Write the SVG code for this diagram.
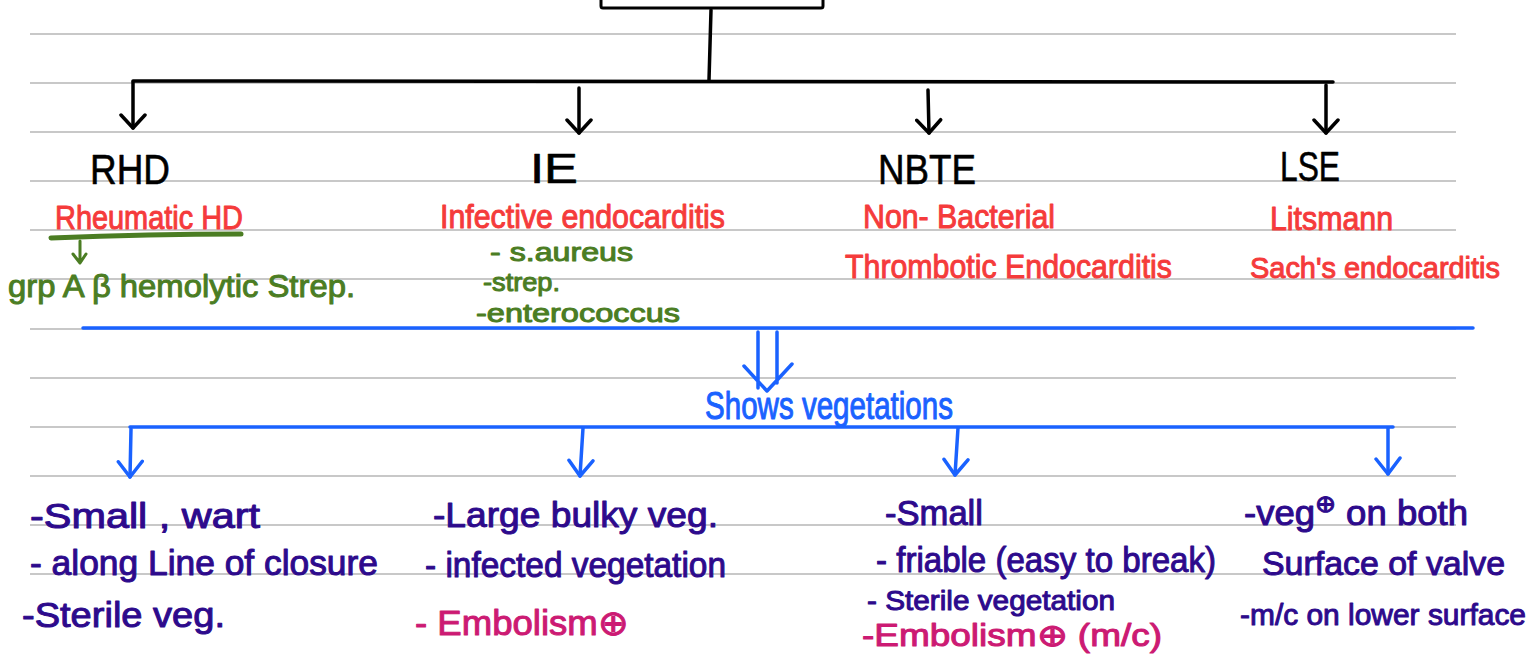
<svg xmlns="http://www.w3.org/2000/svg" width="1534" height="669" viewBox="0 0 1534 669">
  <style>
    .rule { stroke: #c8c8c8; stroke-width: 2; }
    .hw { font-family: "Liberation Sans", Arial, sans-serif; stroke-width: 1; stroke-linejoin: round; }
    .k { fill: #000; stroke: #000; font-size: 42px; stroke-width: 0.6; }
    .r { fill: #f53b3b; stroke: #f53b3b; font-size: 34px; }
    .g { fill: #4b7d23; stroke: #4b7d23; font-size: 32px; }
    .b { fill: #1a62ff; stroke: #1a62ff; font-size: 38px; }
    .p { fill: #2d0a8c; stroke: #2d0a8c; font-size: 35px; }
    .m { fill: #cc1a73; stroke: #cc1a73; font-size: 35px; }
    .s26 { font-size: 26px; }
    .s28 { font-size: 28px; }
    .s30 { font-size: 30px; }
    .s31 { font-size: 31px; }
    .s34 { font-size: 34px; }
    .sup { font-size: 24px; }
    .ck { stroke: #000; stroke-width: 3.5; fill: none; stroke-linecap: round; stroke-linejoin: round; }
    .cb { stroke: #1a62ff; stroke-width: 3.5; fill: none; stroke-linecap: round; stroke-linejoin: round; }
    .cg { stroke: #4b7d23; fill: none; stroke-linecap: round; stroke-linejoin: round; }
  </style>
  <defs>
    <marker id="headK" markerUnits="userSpaceOnUse" viewBox="-16 -14 20 28" refX="0" refY="0" markerWidth="20" markerHeight="28" orient="auto">
      <path d="M-13,-12 L0,0 L-13,12" fill="none" stroke="#000" stroke-width="3.5" stroke-linecap="round" stroke-linejoin="round"/>
    </marker>
    <marker id="headB" markerUnits="userSpaceOnUse" viewBox="-18 -14 22 28" refX="0" refY="0" markerWidth="22" markerHeight="28" orient="auto">
      <path d="M-16,-12 L0,0 L-15,12" fill="none" stroke="#1a62ff" stroke-width="3.5" stroke-linecap="round" stroke-linejoin="round"/>
    </marker>
  </defs>

  <rect width="1534" height="669" fill="#fff"/>

  <!-- ruled notebook lines -->
  <g id="rules">
    <line class="rule" x1="30" y1="34" x2="1456" y2="34"/>
    <line class="rule" x1="30" y1="83" x2="1456" y2="83"/>
    <line class="rule" x1="30" y1="132" x2="1456" y2="132"/>
    <line class="rule" x1="30" y1="181" x2="1456" y2="181"/>
    <line class="rule" x1="30" y1="230" x2="1456" y2="230"/>
    <line class="rule" x1="30" y1="279" x2="1456" y2="279"/>
    <line class="rule" x1="30" y1="329" x2="1456" y2="329"/>
    <line class="rule" x1="30" y1="378" x2="1456" y2="378"/>
    <line class="rule" x1="30" y1="427" x2="1456" y2="427"/>
    <line class="rule" x1="30" y1="476" x2="1456" y2="476"/>
    <line class="rule" x1="30" y1="525" x2="1456" y2="525"/>
    <line class="rule" x1="30" y1="574" x2="1456" y2="574"/>
  </g>

  <!-- root box, cut off at the top edge -->
  <g id="root">
    <rect x="601" y="-20" width="222" height="28" rx="2" fill="none" stroke="#000" stroke-width="3"/>
  </g>

  <g id="connectors">
    <!-- black tree -->
    <path class="ck" d="M711,10 L709,80" stroke-width="4"/>
    <path class="ck" d="M133,81 L1333,82"/>
    <path class="ck" d="M133,82 L133,128" marker-end="url(#headK)"/>
    <path class="ck" d="M579,88 L579,133" marker-end="url(#headK)"/>
    <path class="ck" d="M928,90 L929,133" marker-end="url(#headK)"/>
    <path class="ck" d="M1326,85 L1326,133" marker-end="url(#headK)"/>

    <!-- green underline and small arrow under Rheumatic HD -->
    <path class="cg" d="M51,238 Q150,234 241,234" stroke-width="5"/>
    <path class="cg" d="M80,241 L80,262 M73,254 L80,263 L86,254" stroke-width="3"/>

    <!-- blue bar and double arrow -->
    <path class="cb" d="M83,328 L1473,328"/>
    <path class="cb" d="M758,332 L758,388 M777,332 L777,383 M744,366 L767,391 L792,364"/>

    <!-- blue distribution bar -->
    <path class="cb" d="M130,427 L1393,427"/>
    <path class="cb" d="M131,429 L130,477" marker-end="url(#headB)"/>
    <path class="cb" d="M583,428 L580,476" marker-end="url(#headB)"/>
    <path class="cb" d="M958,428 L955,475" marker-end="url(#headB)"/>
    <path class="cb" d="M1388,428 L1388,474" marker-end="url(#headB)"/>
  </g>

  <g id="node-rhd" class="hw">
    <text class="k" x="90" y="184" textLength="80" lengthAdjust="spacingAndGlyphs">RHD</text>
    <text class="r" x="55" y="229" textLength="188" lengthAdjust="spacingAndGlyphs">Rheumatic HD</text>
    <text class="g" x="8" y="297" textLength="347" lengthAdjust="spacingAndGlyphs">grp A β hemolytic Strep.</text>
  </g>

  <g id="node-ie" class="hw">
    <text class="k" x="530" y="183" textLength="48" lengthAdjust="spacingAndGlyphs">IE</text>
    <text class="r" x="440" y="228" textLength="285" lengthAdjust="spacingAndGlyphs">Infective endocarditis</text>
    <text class="g s26" x="490" y="261" textLength="143" lengthAdjust="spacingAndGlyphs">- s.aureus</text>
    <text class="g s26" x="483" y="291" textLength="77" lengthAdjust="spacingAndGlyphs">-strep.</text>
    <text class="g s26" x="476" y="322" textLength="204" lengthAdjust="spacingAndGlyphs">-enterococcus</text>
  </g>

  <g id="node-nbte" class="hw">
    <text class="k" x="878" y="184" textLength="98" lengthAdjust="spacingAndGlyphs">NBTE</text>
    <text class="r" x="863" y="228" textLength="192" lengthAdjust="spacingAndGlyphs">Non- Bacterial</text>
    <text class="r" x="845" y="278" textLength="327" lengthAdjust="spacingAndGlyphs">Thrombotic  Endocarditis</text>
  </g>

  <g id="node-lse" class="hw">
    <text class="k" x="1280" y="181" textLength="60" lengthAdjust="spacingAndGlyphs">LSE</text>
    <text class="r" x="1270" y="230" textLength="123" lengthAdjust="spacingAndGlyphs">Litsmann</text>
    <text class="r s30" x="1250" y="278" textLength="250" lengthAdjust="spacingAndGlyphs">Sach's endocarditis</text>
  </g>

  <g id="node-veg" class="hw">
    <text class="b" x="705" y="419" textLength="248" lengthAdjust="spacingAndGlyphs">Shows vegetations</text>
  </g>

  <g id="feat-rhd" class="hw">
    <text class="p" x="30" y="528" textLength="230" lengthAdjust="spacingAndGlyphs">-Small , wart</text>
    <text class="p" x="30" y="575" textLength="348" lengthAdjust="spacingAndGlyphs">- along Line of closure</text>
    <text class="p" x="22" y="627" textLength="203" lengthAdjust="spacingAndGlyphs">-Sterile veg.</text>
  </g>

  <g id="feat-ie" class="hw">
    <text class="p" x="433" y="527" textLength="285" lengthAdjust="spacingAndGlyphs">-Large bulky veg.</text>
    <text class="p" x="425" y="577" textLength="301" lengthAdjust="spacingAndGlyphs">- infected vegetation</text>
    <text class="m" x="415" y="635" textLength="213" lengthAdjust="spacingAndGlyphs">- Embolism⊕</text>
  </g>

  <g id="feat-nbte" class="hw">
    <text class="p" x="885" y="525" textLength="98" lengthAdjust="spacingAndGlyphs">-Small</text>
    <text class="p" x="876" y="572" textLength="340" lengthAdjust="spacingAndGlyphs">- friable (easy to break)</text>
    <text class="p s28" x="867" y="610" textLength="248" lengthAdjust="spacingAndGlyphs">- Sterile vegetation</text>
    <text class="m s31" x="862" y="646" textLength="300" lengthAdjust="spacingAndGlyphs">-Embolism⊕ (m/c)</text>
  </g>

  <g id="feat-lse" class="hw">
    <text class="p" x="1244" y="525" textLength="224" lengthAdjust="spacingAndGlyphs">-veg<tspan class="sup" baseline-shift="super">⊕</tspan> on both</text>
    <text class="p s34" x="1262" y="575" textLength="243" lengthAdjust="spacingAndGlyphs">Surface of valve</text>
    <text class="p s30" x="1240" y="625" textLength="286" lengthAdjust="spacingAndGlyphs">-m/c on lower surface</text>
  </g>
</svg>
